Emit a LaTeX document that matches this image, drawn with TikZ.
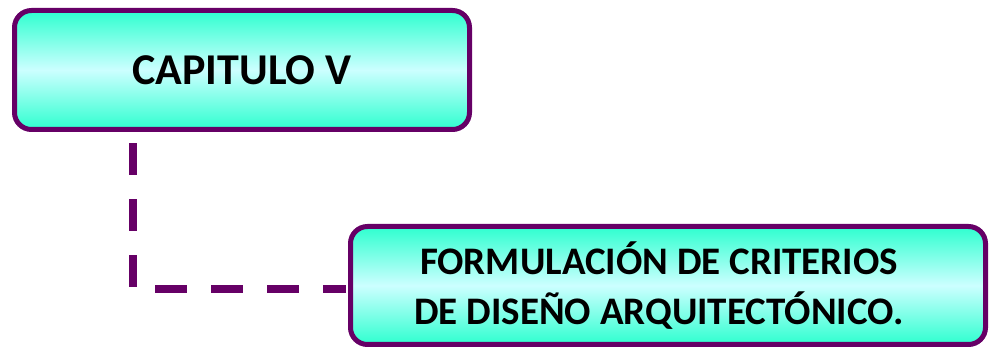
\documentclass[tikz,border=0pt]{standalone}
\usepackage{fontspec}
\setmainfont{Carlito}
\usepackage{tikz}
\definecolor{plum}{HTML}{660066}
\definecolor{aqua}{HTML}{2EFFCF}
\definecolor{icy}{HTML}{CCFFFF}

\begin{document}
\begin{tikzpicture}[x=1pt, y=1pt,
    capbox/.style={draw=plum, line width=5pt, rounded corners=17pt,
        top color=aqua, bottom color=aqua, middle color=icy,
        align=center, inner sep=0pt},
    link/.style={draw=plum, line width=8pt, dash pattern=on 32pt off 24pt}]
    \useasboundingbox (0, 0) rectangle (990, 350);

    \node (chap) [capbox, minimum width=455pt, minimum height=119pt,
        font=\fontsize{44}{52}\selectfont\bfseries] at (242, 280) {\raisebox{-3pt}{CAPITULO V}};
    \node (crit) [capbox, minimum width=635pt, minimum height=118pt,
        font=\fontsize{39}{50}\selectfont\bfseries] at (668, 64.5)
        {FORMULACIÓN DE CRITERIOS\hspace*{18pt}\\DE DISEÑO ARQUITECTÓNICO.\hspace*{18pt}};

    \draw[link, shorten <=11.5pt, shorten >=2pt] ([xshift=120.5pt]chap.south west) |- ([yshift=-3.5pt]crit.west);
\end{tikzpicture}
\end{document}
